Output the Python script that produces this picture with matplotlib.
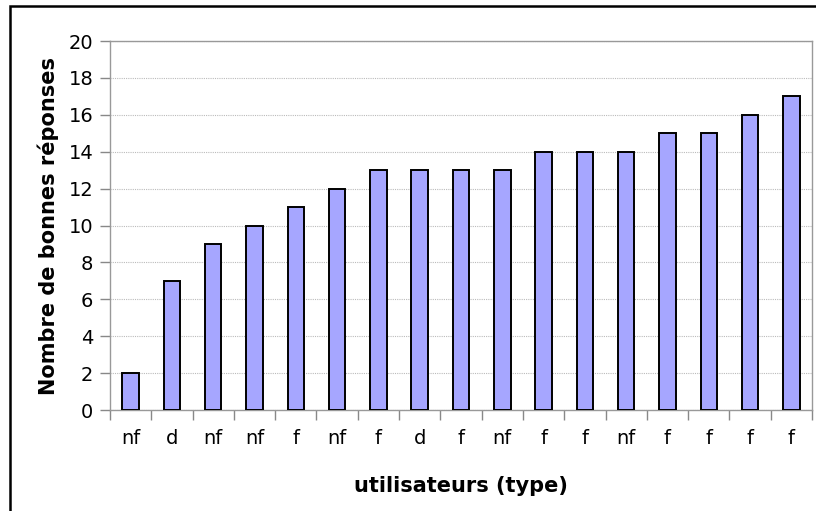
import matplotlib
matplotlib.use("Agg")
import matplotlib.pyplot as plt
from matplotlib.patches import Rectangle

types = ["nf", "d", "nf", "nf", "f", "nf", "f", "d", "f", "nf",
         "f", "f", "nf", "f", "f", "f", "f"]
scores = [2, 7, 9, 10, 11, 12, 13, 13, 13, 13, 14, 14, 14, 15, 15, 16, 17]
y_ticks = list(range(0, 21, 2))

W, H = 816, 511
fig = plt.figure(figsize=(W / 100, H / 100), dpi=100)
plt.rcParams["font.family"] = "DejaVu Sans"

# outer chart frame
fig.patches.append(Rectangle((10 / W, -0.01), 1.0, 1 - 6 / H + 0.01,
                             transform=fig.transFigure, fill=False,
                             edgecolor="black", linewidth=1.8))

left, right, top, bottom = 110, 812, 41, 410
ax = fig.add_axes([left / W, 1 - bottom / H, (right - left) / W, (bottom - top) / H])

x = list(range(len(scores)))
ax.bar(x, scores, width=0.4, color="#A6A6FF", edgecolor="black",
       linewidth=1.4, zorder=3)

ax.set_xlim(-0.5, len(scores) - 0.5)
ax.set_ylim(0, 20)
ax.set_yticks(y_ticks)
ax.set_xticks(x)
ax.set_xticklabels(types)
ax.set_xticks([i - 0.5 for i in range(len(scores) + 1)], minor=True)

ax.tick_params(axis="y", direction="out", length=7, width=1, color="#888888",
               labelsize=14, pad=5)
ax.tick_params(axis="x", which="major", length=0, labelsize=14, pad=14)
ax.tick_params(axis="x", which="minor", direction="out", length=7, width=1,
               color="#888888")

ax.grid(axis="y", color="#BBBBBB", linestyle=(0, (1, 1)), linewidth=0.8, zorder=0)
for s in ax.spines.values():
    s.set_color("#999999")
    s.set_linewidth(1.0)

ax.set_xlabel("utilisateurs (type)", fontsize=15, fontweight="bold", labelpad=20)
ax.set_ylabel("Nombre de bonnes réponses", fontsize=15, fontweight="bold", labelpad=7)

fig.savefig("out.png", dpi=100)
